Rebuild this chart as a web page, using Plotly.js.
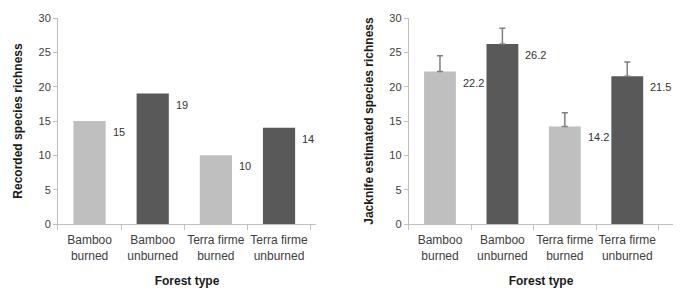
<!DOCTYPE html>
<html><head><meta charset="utf-8">
<script src="https://cdn.plot.ly/plotly-3.0.1.min.js"></script>
<style>html,body{margin:0;padding:0;background:#fff}#chart{width:687px;height:288px}</style>
</head><body><div id="chart"></div>
<script>
const categories = ["Bamboo<br>burned", "Bamboo<br>unburned", "Terra firme<br>burned", "Terra firme<br>unburned"];
const recordedRichness = [15, 19, 10, 14];
const jackknifeRichness = [22.2, 26.2, 14.2, 21.5];
const jackknifeError = [2.3, 2.3, 2.0, 2.1];
const recordedLabels = ["15", "19", "10", "14"];
const jackknifeLabels = ["22.2", "26.2", "14.2", "21.5"];
const yTicks = [0, 5, 10, 15, 20, 25, 30];
const barColors = ["#bfbfbf", "#595959", "#bfbfbf", "#595959"];

const tickFont = {family: "Liberation Sans, Arial, sans-serif", size: 12, color: "#404040"};
const titleFont = {family: "Liberation Sans Narrow, Arial Narrow, Liberation Sans, sans-serif", size: 12, color: "#1a1a1a", weight: "bold"};

const traces = [
  {type: "bar", x: categories, y: recordedRichness, xaxis: "x", yaxis: "y",
   marker: {color: barColors}, hoverinfo: "none"},
  {type: "bar", x: categories, y: jackknifeRichness, xaxis: "x2", yaxis: "y2",
   marker: {color: barColors}, hoverinfo: "none",
   error_y: {type: "data", array: jackknifeError, symmetric: false, arrayminus: [0,0,0,0], color: "#7f7f7f", thickness: 1.5, width: 3}}
];

const annotations = [];
function addLabels(vals, labels, xa, ya) {
  vals.forEach((v, i) => annotations.push({
    x: categories[i], y: v, xref: xa, yref: ya, text: labels[i], showarrow: false,
    xanchor: "left", yanchor: "middle", xshift: 21, yshift: -11,
    font: {family: "Liberation Sans, Arial, sans-serif", size: 11, color: "#333333"}
  }));
}
addLabels(recordedRichness, recordedLabels, "x", "y");
addLabels(jackknifeRichness, jackknifeLabels, "x2", "y2");

function yaxis(title, anchor) {
  return {anchor: anchor, range: [0, 30], tickvals: yTicks, ticks: "outside", ticklen: 4, tickcolor: "#bfbfbf",
    showgrid: false, zeroline: false, showline: true, linecolor: "#bfbfbf", linewidth: 1,
    tickfont: {family: "Liberation Sans, Arial, sans-serif", size: 11, color: "#404040"},
    title: {text: title, font: titleFont, standoff: 13}, fixedrange: true};
}
function xaxis(domain, anchor) {
  return {domain: domain, anchor: anchor, type: "category", ticks: "outside", tickson: "boundaries", ticklen: 5,
    tickcolor: "#bfbfbf", showline: true, linecolor: "#bfbfbf", linewidth: 1, showgrid: false, tickangle: 0,
    ticklabelstandoff: 5,
    tickfont: tickFont, title: {text: "Forest type", font: titleFont, standoff: 18}, fixedrange: true};
}

const layout = {
  width: 687, height: 288, margin: {l: 0, r: 0, t: 18, b: 64},
  paper_bgcolor: "#fff", plot_bgcolor: "#fff", showlegend: false, bargap: 0.49,
  xaxis: xaxis([0.0844, 0.46], "y"),
  yaxis: yaxis("Recorded species richness", "x"),
  xaxis2: xaxis([0.595, 0.98], "y2"),
  yaxis2: yaxis("Jacknife estimated species richness", "x2"),
  annotations: annotations
};
Plotly.newPlot("chart", traces, layout, {staticPlot: true});
</script></body></html>
